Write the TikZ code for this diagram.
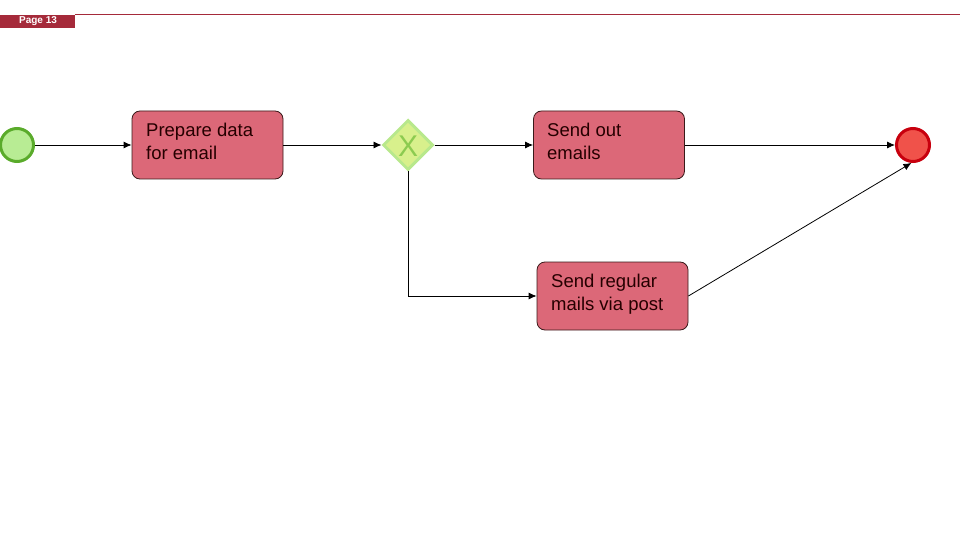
\documentclass[tikz,border=0pt]{standalone}
\usepackage{fontspec}
\setmainfont{Liberation Sans}
\usetikzlibrary{arrows.meta,shapes.geometric}
\definecolor{hdr}{HTML}{A52A3A}
\definecolor{taskfill}{HTML}{DC6878}
\definecolor{taskline}{HTML}{3A1A1A}
\definecolor{startfill}{HTML}{B8EC94}
\definecolor{startline}{HTML}{5AAB2B}
\definecolor{endfill}{HTML}{F0524A}
\definecolor{endline}{HTML}{C8000E}
\definecolor{gwfill}{HTML}{D8F08C}
\definecolor{gwline}{HTML}{B8E88C}
\definecolor{gwx}{HTML}{8CCB50}
\tikzset{
  x=1pt,y=-1pt,
  taskbox/.style={draw=taskline,fill=taskfill,rounded corners=8pt,line width=0.8pt,
    minimum width=151pt,minimum height=68pt,inner sep=0pt},
  tasktext/.style={anchor=north west,align=left,font=\fontsize{18.5}{23}\selectfont,text=black!85!red,inner sep=0pt},
  flow/.style={draw=black,line width=0.8pt,-{Latex[length=8pt,width=7pt]}},
}
\begin{document}
\begin{tikzpicture}
\useasboundingbox (0,0) rectangle (960,540);
% header
\fill[hdr] (0,15) rectangle (75,28);
\draw[hdr,line width=0.8pt] (75,14.5) -- (960,14.5);
\node[font=\bfseries\fontsize{10}{10}\selectfont,text=white] (pg) at (38,21.5) {Page 13};
% events
\node[circle,draw=startline,fill=startfill,line width=3pt,minimum size=33pt,inner sep=0pt] (start) at (17,145) {};
\node[circle,draw=endline,fill=endfill,line width=3pt,minimum size=33pt,inner sep=0pt] (end) at (913,145) {};
% tasks
\node[taskbox] (t1) at (207.5,145) {};
\node[tasktext] at (146,123) {Prepare data\\for email};
\node[taskbox] (t2) at (609,145) {};
\node[tasktext] at (547,123) {Send out\\emails};
\node[taskbox] (t3) at (612.5,296) {};
\node[tasktext] at (551,274) {Send regular\\mails via post};
% gateway
\node[diamond,draw=gwline,fill=gwfill,line width=3pt,minimum width=50pt,minimum height=50pt,inner sep=0pt] (gw) at (408,145) {};
\node[text=gwx,font=\fontsize{30}{30}\selectfont] (gx) at (408,146) {X};
% flows
\draw[flow] (start) -- (t1);
\draw[flow] (t1) -- (gw);
\draw[flow] (gw) -- (t2);
\draw[flow] (t2) -- (end);
\draw[flow] (gw.south) |- (t3.west);
\draw[flow] (t3.east) -- (end.265);
\end{tikzpicture}
\end{document}
